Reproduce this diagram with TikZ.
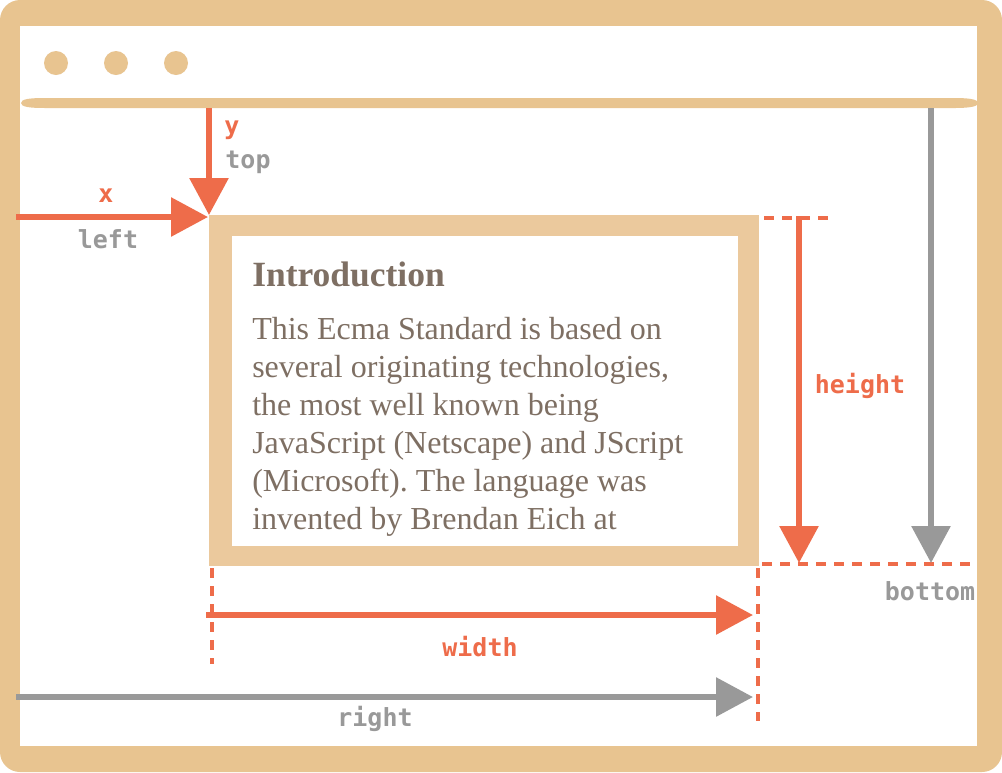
\documentclass[tikz,border=0pt]{standalone}
\usepackage{fontspec}
\setmainfont{Liberation Serif}
\setmonofont{DejaVu Sans Mono}
\usetikzlibrary{arrows.meta}
\frenchspacing
\definecolor{frame}{RGB}{232,196,144}
\definecolor{boxc}{RGB}{235,201,157}
\definecolor{redc}{RGB}{238,108,74}
\definecolor{grayc}{RGB}{153,153,153}
\definecolor{textc}{RGB}{126,111,99}
\tikzset{
  redarrow/.style={draw=redc,line width=4.5pt,-{Triangle[length=27.75pt,width=28.5pt]}},
  grayarrow/.style={draw=grayc,line width=4.5pt,-{Triangle[length=27.75pt,width=28.5pt]}},
  dashline/.style={draw=redc,line width=3pt,dash pattern=on 7.5pt off 6pt},
  redlabel/.style={text=redc,font=\fontsize{18.7pt}{20pt}\selectfont\ttfamily\bfseries,inner sep=0pt},
  graylabel/.style={text=grayc,font=\fontsize{18.7pt}{20pt}\selectfont\ttfamily\bfseries,inner sep=0pt},
}
\begin{document}
\begin{tikzpicture}[x=0.75pt,y=-0.75pt]
\useasboundingbox (0,0) rectangle (1002,772);
% window frame
\fill[frame,rounded corners=15pt] (0,0) rectangle (1002,772);
\fill[white] (20,26) rectangle (977,746);
% dots
\foreach \i/\cx in {1/56,2/116,3/176} \fill[frame] (\cx,63) circle[radius=12];
% address bar
\fill[frame] (21,103) .. controls (21,99) and (30,98) .. (45,98) -- (955,98)
  .. controls (972,98) and (978,100) .. (978,103) .. controls (978,106) and (972,108) .. (955,108)
  -- (45,108) .. controls (30,108) and (21,107) .. (21,103) -- cycle;
% element box
\fill[boxc] (209,215) rectangle (759,566);
\fill[white] (232,236) rectangle (738,546);
\node[anchor=base west,inner sep=0pt,text=textc,font=\fontsize{26.6pt}{30pt}\selectfont\bfseries] (title) at (252,286) {Introduction};
\node[anchor=base west,inner sep=0pt,text=textc,align=left,font=\fontsize{24pt}{28.5pt}\selectfont] (body) at (252,529)
  {This Ecma Standard is based on\\several originating technologies,\\the most well known being\\JavaScript (Netscape) and JScript\\(Microsoft). The language was\\invented by Brendan Eich at};
% coordinates
\coordinate (ytop) at (209,108);
\coordinate (ytip) at (209,215);
\coordinate (xstart) at (16,217);
\coordinate (xtip) at (208,217);
\coordinate (hstart) at (799,216);
\coordinate (htip) at (799,563);
\coordinate (bstart) at (931,108);
\coordinate (btip) at (931,563);
\coordinate (wstart) at (206,615);
\coordinate (wtip) at (753,615);
\coordinate (rstart) at (16,697);
\coordinate (rtip) at (753,697);
\coordinate (d1a) at (764,218);
\coordinate (d1b) at (828,218);
\coordinate (d2a) at (762,564);
\coordinate (d2b) at (972,564);
\coordinate (d3a) at (212,568);
\coordinate (d3b) at (212,664);
\coordinate (d4a) at (758,568);
\coordinate (d4b) at (758,721);
% dashed guides
\draw[dashline] (d1a) -- (d1b);
\draw[dashline] (d2a) -- (d2b);
\draw[dashline] (d3a) -- (d3b);
\draw[dashline] (d4a) -- (d4b);
% arrows
\draw[redarrow] (ytop) -- (ytip);
\draw[redarrow] (xstart) -- (xtip);
\draw[redarrow] (hstart) -- (htip);
\draw[grayarrow] (bstart) -- (btip);
\draw[redarrow] (wstart) -- (wtip);
\draw[grayarrow] (rstart) -- (rtip);
% labels
\node[redlabel] (ylab) at (232,130) {y};
\node[graylabel] (toplab) at (248,162) {top};
\node[redlabel] (xlab) at (106,196) {x};
\node[graylabel] (leftlab) at (108,239) {left};
\node[redlabel] (heightlab) at (860,386) {height};
\node[graylabel] (bottomlab) at (930,591) {bottom};
\node[redlabel] (widthlab) at (480,647) {width};
\node[graylabel] (rightlab) at (375,719) {right};
\end{tikzpicture}
\end{document}
